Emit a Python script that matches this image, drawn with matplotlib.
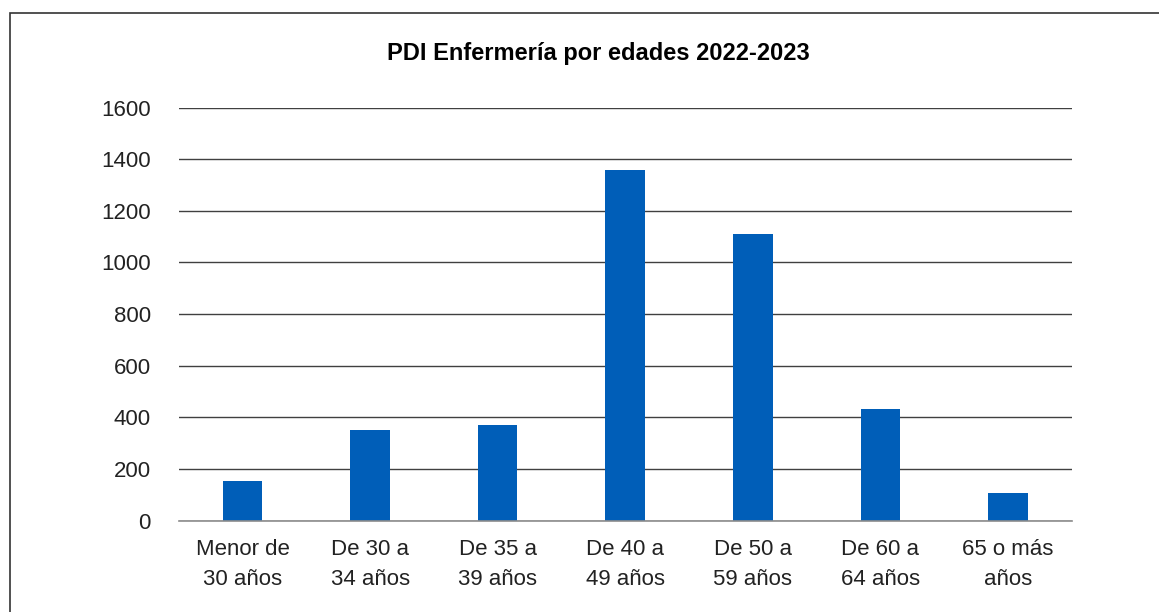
import numpy as np
import matplotlib
matplotlib.use('Agg')
import matplotlib.pyplot as plt
from matplotlib.patches import Rectangle

# data
categories = ['Menor de\n30 años', 'De 30 a\n34 años', 'De 35 a\n39 años', 'De 40 a\n49 años',
              'De 50 a\n59 años', 'De 60 a\n64 años', '65 o más\naños']
values = [154, 351, 370, 1358, 1110, 432, 107]
yticks = [0, 200, 400, 600, 800, 1000, 1200, 1400, 1600]
title = 'PDI Enfermería por edades 2022-2023'

plt.rcParams['font.family'] = ['Liberation Sans Narrow', 'Liberation Sans', 'DejaVu Sans']

fig = plt.figure(figsize=(11.59, 6.12), dpi=100)
ax = fig.add_axes([0.1542, 0.1492, 0.9247 - 0.1542, 0.8243 - 0.1492])

x = np.arange(len(categories))
ax.bar(x, values, width=0.31, color='#005eb8', zorder=3)

ax.set_xlim(-0.5, len(categories) - 0.5)
ax.set_ylim(0, 1600)
ax.set_yticks(yticks)
ax.set_yticklabels([str(t) for t in yticks])
ax.set_xticks(x)
ax.set_xticklabels(categories, linespacing=1.55)

ax.yaxis.grid(True, color='#404040', linewidth=1.0, zorder=0)
for s in ['top', 'right', 'left']:
    ax.spines[s].set_visible(False)
ax.spines['bottom'].set_color('#8c8c8c')
ax.spines['bottom'].set_linewidth(1.2)
ax.spines['bottom'].set_zorder(4)

ax.tick_params(axis='both', length=0, labelsize=16, colors='#222222')
ax.tick_params(axis='y', pad=20)
ax.tick_params(axis='x', pad=13)

fig.text(0.516, 0.913, title, ha='center', va='center', fontsize=17,
         fontweight='bold', color='black')

# frame around the chart
fig.patches.append(Rectangle((9.5 / 1159, -0.05), 1.2, 1 - 12.5 / 612 + 0.05,
                             transform=fig.transFigure, fill=False,
                             edgecolor='#333333', linewidth=1.2))

fig.savefig('out.png', dpi=100)
